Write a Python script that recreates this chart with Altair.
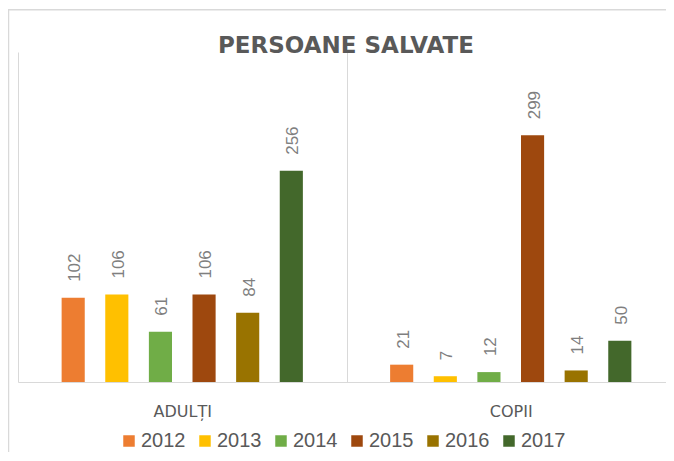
import altair as alt
import pandas as pd

title_text = "PERSOANE SALVATE"
categories = ["ADULȚI", "COPII"]
years = ["2012", "2013", "2014", "2015", "2016", "2017"]
adulti = [102, 106, 61, 106, 84, 256]
copii = [21, 7, 12, 299, 14, 50]
colors = ["#ED7D31", "#FFC000", "#70AD47", "#9E480E", "#997300", "#43682B"]

rows = []
for cat, vals in zip(categories, [adulti, copii]):
    for yr, v in zip(years, vals):
        rows.append({"cat": cat, "year": yr, "value": v})
df = pd.DataFrame(rows)

x = alt.X(
    "cat:N", sort=categories, title=None,
    scale=alt.Scale(paddingInner=0, paddingOuter=0, range=[0, 657]),
    axis=alt.Axis(grid=True, tickBand="extent", gridColor="#D9D9D9", gridWidth=1,
                  domainColor="#D9D9D9", domainWidth=1, ticks=False, labelAngle=0,
                  labelPadding=21, labelFont="DejaVu Sans", labelFontSize=16,
                  labelColor="#595959"),
)
xo = alt.XOffset("year:N", sort=years,
                 scale=alt.Scale(paddingInner=0.47, paddingOuter=1))
y = alt.Y("value:Q", scale=alt.Scale(domain=[0, 400], nice=False), axis=None)

single = alt.Chart(pd.DataFrame({"t": [title_text]}))

border = single.mark_rect(
    fillOpacity=0, stroke="#D9D9D9", strokeWidth=1.5
).encode(x=alt.value(-9.5), y=alt.value(-42.2), x2=alt.value(1000), y2=alt.value(1000))

title = single.mark_text(
    font="DejaVu Sans", fontSize=23, fontWeight="bold", color="#595959",
    align="center", baseline="alphabetic",
).encode(x=alt.value(328), y=alt.value(1.3), text="t:N")

base = alt.Chart(df)
bars = base.mark_bar().encode(
    x=x, xOffset=xo, y=y,
    color=alt.Color(
        "year:N", sort=years,
        scale=alt.Scale(domain=years, range=colors),
        legend=alt.Legend(
            title=None, orient="none", legendX=101, legendY=379, direction="horizontal",
            symbolType="square", symbolSize=132, symbolStrokeWidth=0,
            labelFont="Liberation Sans", labelFontSize=20, labelColor="#595959",
            labelOffset=2, columnPadding=9, padding=0,
        ),
    ),
)
labels = base.mark_text(
    angle=270, align="left", baseline="middle", dx=16, dy=2,
    font="Liberation Sans", fontSize=17, color="#7F7F7F",
).encode(x=x, xOffset=xo, y=y, text="value:Q")

chart = alt.layer(border, bars, labels, title).properties(
    width=648, height=330,
    autosize=alt.AutoSizeParams(type="none"),
    padding={"left": 10, "top": 44, "right": 0, "bottom": 70},
).configure_view(stroke=None)

chart.save("out.html", embed_options={"renderer": "svg", "actions": False})
